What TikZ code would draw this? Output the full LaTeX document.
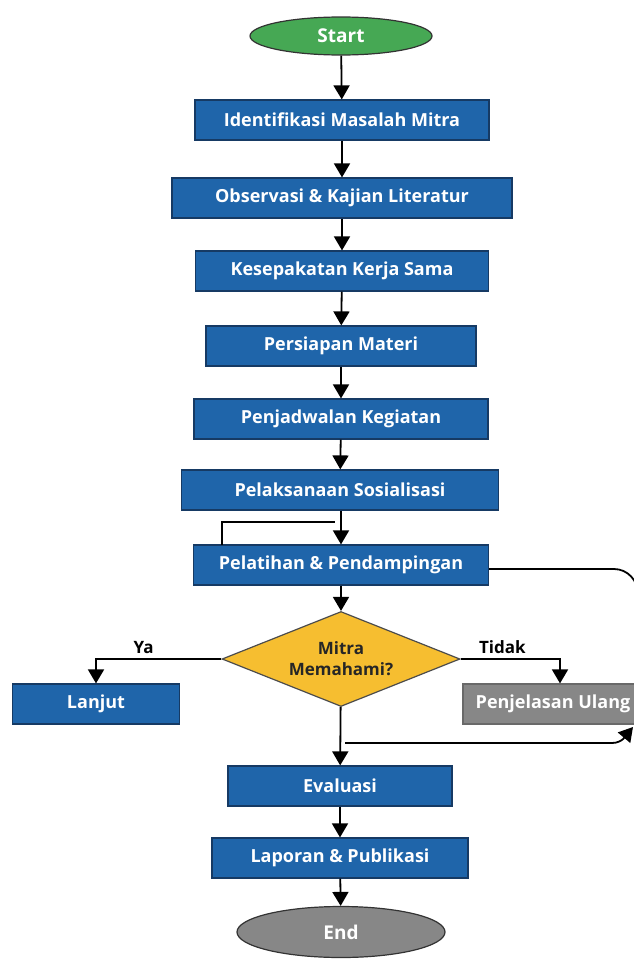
\documentclass[tikz,border=0pt]{standalone}
\usepackage{fontspec}
\setmainfont{Open Sans}
\usetikzlibrary{shapes.geometric,arrows.meta}
\definecolor{blue1}{RGB}{31,101,170}
\definecolor{navy1}{RGB}{22,58,100}
\definecolor{green1}{RGB}{70,168,84}
\definecolor{yellow1}{RGB}{246,190,48}
\definecolor{gray1}{RGB}{135,135,135}
\definecolor{gray2}{RGB}{105,105,105}
\def\lw{1.8}

\begin{document}
\begin{tikzpicture}[	x=1pt, y=-1pt, >={Triangle[length=14pt,width=16pt]},
				flow/.style={line width=\lw,->},
				line/.style={line width=\lw},
				box/.style={draw=navy1,line width=1.2,fill=blue1,text=white,font=\bfseries\fontsize{18}{20}\selectfont,minimum height=40,inner sep=0pt},
				terminal/.style={ellipse,draw=black!80,line width=1.2,text=white,font=\bfseries\fontsize{19}{21}\selectfont,inner sep=0pt},
				decision/.style={diamond,draw=black!70,line width=1.2,fill=yellow1,text=black!85,aspect=2.5,inner sep=0pt,align=center,font=\bfseries\fontsize{17}{21}\selectfont}]

	\useasboundingbox (0,0) rectangle (633,961);

	% Nodes
	\node[terminal,fill=green1,minimum width=182,minimum height=38] (start) at (341,36) {Start};
	\node[box,minimum width=294] (s1) at (342,120) {Identifikasi Masalah Mitra};
	\node[box,minimum width=340] (s2) at (342,198) {Observasi \& Kajian Literatur};
	\node[box,minimum width=293] (s3) at (342,271) {Kesepakatan Kerja Sama};
	\node[box,minimum width=270] (s4) at (341,346) {Persiapan Materi};
	\node[box,minimum width=294] (s5) at (341,419) {Penjadwalan Kegiatan};
	\node[box,minimum width=317] (s6) at (340,490) {Pelaksanaan Sosialisasi};
	\node[box,minimum width=295] (s7) at (341,565) {Pelatihan \& Pendampingan};
	\node[decision,minimum width=238,minimum height=95] (dec) at (341,659) {Mitra\\Memahami?};
	\node[box,minimum width=167] (yes) at (96,704) {Lanjut};
	\node[box,fill=gray1,draw=gray2,minimum width=180] (no) at (553,704) {Penjelasan Ulang};
	\node[box,minimum width=224] (s8) at (340,786) {Evaluasi};
	\node[box,minimum width=256] (s9) at (340,858) {Laporan \& Publikasi};
	\node[terminal,fill=gray1,minimum width=208,minimum height=51] (end) at (341,932) {End};

	% Main flow
	\draw[flow] (start) -- (s1);
	\draw[flow] (s1) -- (s2);
	\draw[flow] (s2) -- (s3);
	\draw[flow] (s3) -- (s4);
	\draw[flow] (s4) -- (s5);
	\draw[flow] (s5) -- (s6);
	\draw[flow] (s6.south -| s7.north) -- (s7);
	\draw[flow] (s7) -- (dec);
	\draw[flow] (dec) -- (s8);
	\draw[flow] (s8) -- (s9);
	\draw[flow] (s9) -- (end);

	% Branches
	\draw[flow] (dec.west) -- (yes.north |- dec.west) node[pos=0.62,above=1pt,font=\bfseries\fontsize{17}{19}\selectfont] {Ya} -- (yes.north);
	\draw[flow] (dec.east) -- (560,659) node[pos=0.42,above=1pt,font=\bfseries\fontsize{17}{19}\selectfont] {Tidak} -- (no.north -| 560,0);

	% Loops
	\coordinate (back) at (335,522);
	\draw[line] (222,545) -- (222,522) -- (back);
	\draw[line] (s7.east |- 0,569) -- (614,569) to[out=0,in=90] (638,594);
	\coordinate (ret) at (345,743);
	\draw[flow] (ret) -- (612,743) to[out=0,in=-130] (633,727);

\end{tikzpicture}
\end{document}
